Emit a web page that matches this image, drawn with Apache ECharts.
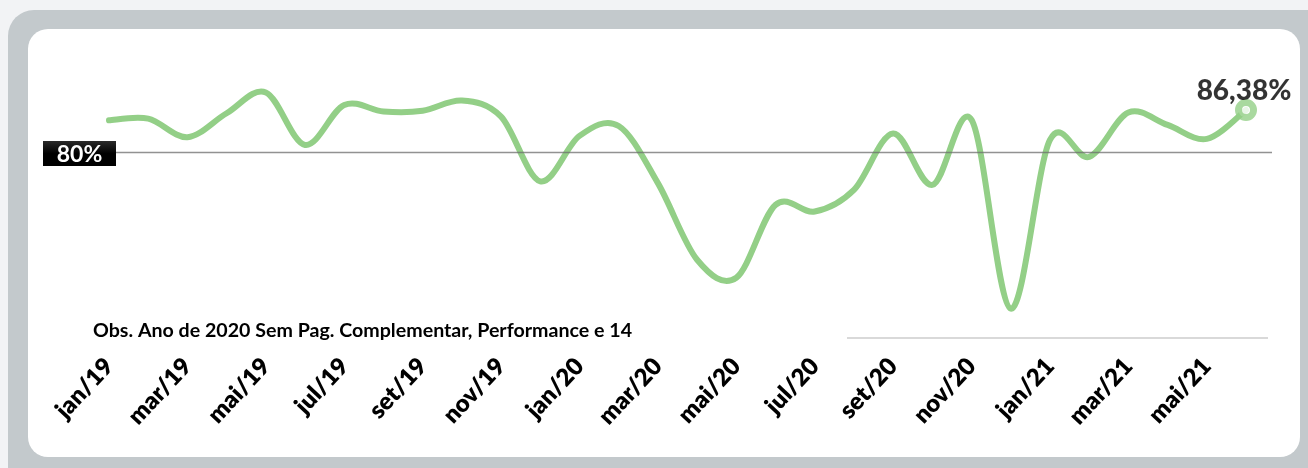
<!DOCTYPE html>
<html>
<head>
<meta charset="utf-8">
<script src="https://cdn.jsdelivr.net/npm/echarts@6/dist/echarts.min.js"></script>
<style>
  html, body { margin: 0; padding: 0; background: #F2F3F5; }
  #frame { position: absolute; left: 8px; top: 10px; width: 1330px; height: 490px;
           background: #C3C9CC; border-radius: 26px; }
  #panel { position: absolute; left: 28px; top: 29px; width: 1272px; height: 428px;
           background: #FFFFFF; border-radius: 20px; }
  #chart { position: absolute; left: 0; top: 0; width: 1308px; height: 468px; }
</style>
</head>
<body>
<div id="frame"></div>
<div id="panel"></div>
<div id="chart"></div>
<script>
// Monthly index, jan/19 – jun/21
const months = [
  'jan/19','fev/19','mar/19','abr/19','mai/19','jun/19','jul/19','ago/19','set/19','out/19','nov/19','dez/19',
  'jan/20','fev/20','mar/20','abr/20','mai/20','jun/20','jul/20','ago/20','set/20','out/20','nov/20','dez/20',
  'jan/21','fev/21','mar/21','abr/21','mai/21','jun/21'
];
const indice = [
  84.84, 85.08, 82.30, 85.89, 89.00, 81.15, 87.13, 86.16, 86.26, 87.80, 85.38, 75.70,
  82.50, 83.99, 75.43, 63.96, 61.27, 72.18, 71.18, 74.42, 82.87, 75.17, 84.90, 56.64,
  81.90, 79.36, 86.00, 84.14, 82.05, 86.38
];
const meta = 80;
const observacao = 'Obs. Ano de 2020 Sem Pag. Complementar, Performance e 14';

const GREEN = '#93CF87';
const FONT = 'Lato, "Open Sans", sans-serif';

const fmtPct = v => v.toFixed(2).replace('.', ',') + '%';
const last = indice.length - 1;

// Smooth curve through every point (Catmull-Rom converted to cubic Béziers),
// positioned with the chart's own axes.
function renderCurve(params, api) {
  if (params.dataIndex !== 0) return null;
  const p = indice.map((v, i) => api.coord([i, v]));
  const n = p.length;
  let d = 'M' + p[0][0] + ',' + p[0][1];
  for (let i = 0; i < n - 1; i++) {
    const p0 = p[Math.max(i - 1, 0)];
    const p1 = p[i];
    const p2 = p[i + 1];
    const p3 = p[Math.min(i + 2, n - 1)];
    const c1x = p1[0] + (p2[0] - p0[0]) / 6;
    const c1y = p1[1] + (p2[1] - p0[1]) / 6;
    const c2x = p2[0] - (p3[0] - p1[0]) / 6;
    const c2y = p2[1] - (p3[1] - p1[1]) / 6;
    d += 'C' + c1x + ',' + c1y + ' ' + c2x + ',' + c2y + ' ' + p2[0] + ',' + p2[1];
  }
  return {
    type: 'path',
    shape: { pathData: d },
    style: { fill: 'none', stroke: GREEN, lineWidth: 6, lineCap: 'round', lineJoin: 'round' }
  };
}

const chart = echarts.init(document.getElementById('chart'), null, { renderer: 'canvas' });

chart.setOption({
  animation: false,
  grid: { left: 109, right: 62, top: 19, bottom: 115 },
  xAxis: {
    type: 'category',
    data: months,
    boundaryGap: false,
    axisLine: { show: false },
    axisTick: { show: false },
    splitLine: { show: false },
    axisLabel: {
      interval: 1,
      rotate: 47,
      margin: 9,
      color: '#000',
      fontFamily: FONT,
      fontWeight: 800,
      fontSize: 24
    }
  },
  yAxis: {
    type: 'value',
    min: 50,
    max: 100,
    show: false,
    splitLine: { show: false }
  },
  series: [
    {
      name: 'Índice',
      type: 'custom',
      data: indice.map((v, i) => [i, v]),
      encode: { x: 0, y: 1 },
      renderItem: renderCurve,
      clip: false,
      z: 2
    },
    {
      name: 'Último',
      type: 'scatter',
      data: [[months[last], indice[last]]],
      symbol: 'circle',
      symbolSize: 15,
      itemStyle: { color: '#FFFFFF', borderColor: GREEN, borderWidth: 7 },
      label: {
        show: true,
        position: 'top',
        distance: 0,
        offset: [-2, 6],
        formatter: p => fmtPct(p.value[1]),
        color: '#000',
        fontFamily: FONT,
        fontWeight: 900,
        fontSize: 28
      },
      z: 4
    }
  ]
});

// Target line at 80% with its tag, placed through the value axis
const y80 = chart.convertToPixel({ yAxisIndex: 0 }, meta);

chart.setOption({
  graphic: [
    {
      type: 'line',
      z: 10,
      shape: { x1: 116, y1: y80, x2: 1272, y2: y80 },
      style: { stroke: '#6E6E6E', lineWidth: 1.5, opacity: 0.75 }
    },
    {
      type: 'rect',
      z: 11,
      shape: { x: 43, y: y80 - 11.5, width: 73, height: 25 },
      style: {
        fill: new echarts.graphic.LinearGradient(0, 0, 0, 1, [
          { offset: 0, color: '#2A2A2A' },
          { offset: 0.5, color: '#000000' },
          { offset: 1, color: '#000000' }
        ])
      }
    },
    {
      type: 'text',
      z: 12,
      style: {
        x: 79.5, y: y80 + 1.5,
        text: meta + '%',
        fill: '#FFFFFF',
        font: 'bold 23px ' + FONT,
        align: 'center',
        verticalAlign: 'middle'
      }
    },
    {
      type: 'line',
      z: 1,
      shape: { x1: 847, y1: 338, x2: 1268, y2: 338 },
      style: { stroke: '#D9D9D9', lineWidth: 2 }
    },
    {
      type: 'text',
      z: 5,
      x: 93, y: 331,
      scaleX: 1.09,
      style: {
        x: 0, y: 0,
        text: observacao,
        fill: '#000',
        font: 'bold 18px ' + FONT,
        align: 'left',
        verticalAlign: 'middle'
      }
    }
  ]
});
</script>
</body>
</html>
